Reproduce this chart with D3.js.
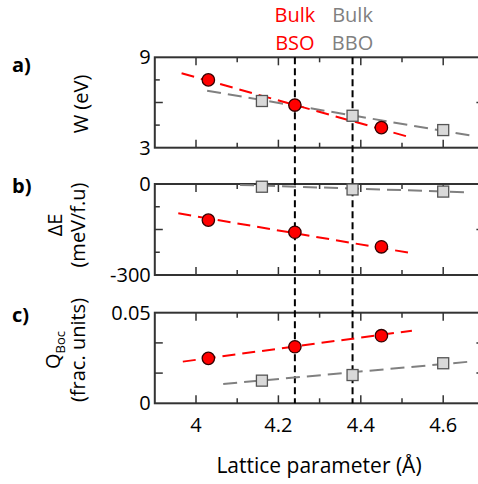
<!DOCTYPE html>
<html><head><meta charset="utf-8">
<script src="https://cdn.jsdelivr.net/npm/d3@7"></script>
<style>html,body{margin:0;padding:0;background:#fff;overflow:hidden}svg{display:block}text{font-family:"Open Sans",sans-serif}</style>
</head><body>
<svg id="c" width="478" height="484"></svg>
<script>
// Data
const latticeBSO = [4.03, 4.24, 4.45];
const latticeBBO = [4.16, 4.38, 4.60];
const W_BSO = [7.5, 5.83, 4.33];
const W_BBO = [6.1, 5.12, 4.17];
const dE_BSO = [-119, -159, -207];
const dE_BBO = [-9, -18, -25];
const Q_BSO = [0.0248, 0.0312, 0.0373];
const Q_BBO = [0.0125, 0.0156, 0.0221];
// Linear fit endpoints
const fitX_W_BSO = [3.965, 4.52], fitY_W_BSO = [7.94, 3.69];
const fitX_W_BBO = [4.027, 4.673], fitY_W_BBO = [6.78, 3.78];
const fitX_E_BSO = [3.957, 4.525], fitY_E_BSO = [-96.6, -228.5];
const fitX_E_BBO = [4.107, 4.665], fitY_E_BBO = [-3, -27.5];
const fitX_Q_BSO = [3.968, 4.524], fitY_Q_BSO = [0.0230, 0.0401];
const fitX_Q_BBO = [4.066, 4.665], fitY_Q_BBO = [0.01065, 0.0230];
const bulkBSO = 4.24, bulkBBO = 4.38;
const xTickLabels = [4, 4.2, 4.4, 4.6];
const xMinor = [4.1, 4.3, 4.5, 4.7];

const svg = d3.select("#c");
const x = d3.scaleLinear().domain([3.9, 4.7]).range([154.8, 484.4]);

const panels = [
  {label:"a)", ly:72, domain:[3,9], range:[147.7,57.3], ticksLong:[6], ticksShort:[4.5,7.5],
   tl:["3","9"], title:[["W (eV)"]], tx:[88], ty:104,
   sx:latticeBSO, sy:W_BSO, gx:latticeBBO, gy:W_BBO,
   fr:[fitX_W_BSO, fitY_W_BSO], fg:[fitX_W_BBO, fitY_W_BBO]},
  {label:"b)", ly:193, domain:[-300,0], range:[275,184], ticksLong:[-150], ticksShort:[-75,-225],
   tl:["-300","0"], title:[["ΔE"],["(meV/f.u)"]], tx:[62,85], ty:225,
   sx:latticeBSO, sy:dE_BSO, gx:latticeBBO, gy:dE_BBO,
   fr:[fitX_E_BSO, fitY_E_BSO], fg:[fitX_E_BBO, fitY_E_BBO]},
  {label:"c)", ly:322, domain:[0,0.05], range:[403.3,312.7], ticksLong:[0.05/3, 0.1/3], ticksShort:[],
   tl:["0","0.05"], title:[["Q","Boc"],["(frac. units)"]], tx:[60,85], ty:350,
   sx:latticeBSO, sy:Q_BSO, gx:latticeBBO, gy:Q_BBO,
   fr:[fitX_Q_BSO, fitY_Q_BSO], fg:[fitX_Q_BBO, fitY_Q_BBO]}
];

const axisColor = "#333";
const yTop = panels[0].range[1], yBot = panels[2].range[0];

panels.forEach(p => {
  const y = d3.scaleLinear().domain(p.domain).range(p.range);
  const g = svg.append("g");
  const [y0, y1] = [p.range[0], p.range[1]];
  const [x0, x1] = x.range();
  // ticks (inward) on all four sides
  const tk = (xx, len, isMajor) => {
    g.append("line").attr("x1", x(xx)).attr("x2", x(xx)).attr("y1", y0).attr("y2", y0 - len)
      .attr("stroke", axisColor).attr("stroke-width", 1.5);
    g.append("line").attr("x1", x(xx)).attr("x2", x(xx)).attr("y1", y1).attr("y2", y1 + len)
      .attr("stroke", axisColor).attr("stroke-width", 1.5);
  };
  [4.0,4.2,4.4,4.6].forEach(v => tk(v, 8));
  xMinor.forEach(v => tk(v, 5));
  const ytk = (v, len) => {
    g.append("line").attr("x1", x0).attr("x2", x0 + len).attr("y1", y(v)).attr("y2", y(v))
      .attr("stroke", axisColor).attr("stroke-width", 1.5);
    g.append("line").attr("x1", x1).attr("x2", x1 - len).attr("y1", y(v)).attr("y2", y(v))
      .attr("stroke", axisColor).attr("stroke-width", 1.5);
  };
  p.ticksLong.forEach(v => ytk(v, 8));
  p.ticksShort.forEach(v => ytk(v, 5));
  // frame
  g.append("rect").attr("x", x0).attr("y", y1).attr("width", x1 - x0).attr("height", y0 - y1)
    .attr("fill", "none").attr("stroke", axisColor).attr("stroke-width", 2);
  // y tick labels
  g.append("text").attr("x", x0 - 4).attr("y", y(p.domain[0]) + 7).attr("text-anchor", "end")
    .attr("font-size", 20).attr("fill", "#000").text(p.tl[0]);
  g.append("text").attr("x", x0 - 4).attr("y", y(p.domain[1]) + 7).attr("text-anchor", "end")
    .attr("font-size", 20).attr("fill", "#000").text(p.tl[1]);
  // panel label
  g.append("text").attr("x", 12).attr("y", p.ly).attr("font-size", 20).attr("font-weight", "bold").text(p.label);
  // y title
  p.title.forEach((line, i) => {
    const t = g.append("text").attr("transform", `translate(${p.tx[i]},${p.ty}) rotate(-90)`)
      .attr("text-anchor", "middle").attr("font-size", 20).attr("fill", "#000");
    t.append("tspan").text(line[0]);
    if (line[1]) t.append("tspan").attr("font-size", 13).attr("dy", 5).text(line[1]);
  });
  p.y = y;
});

// vertical bulk lines
[bulkBSO, bulkBBO].forEach(v => {
  svg.append("line").attr("x1", x(v)).attr("x2", x(v)).attr("y1", yTop).attr("y2", yBot)
    .attr("stroke", "#000").attr("stroke-width", 2).attr("stroke-dasharray", "7,4");
});

panels.forEach(p => {
  const y = p.y;
  const line = d3.line().x(d => x(d[0])).y(d => y(d[1]));
  svg.append("path").attr("d", line(d3.zip(p.fg[0], p.fg[1]))).attr("fill", "none")
    .attr("stroke", "#808080").attr("stroke-width", 2).attr("stroke-dasharray", "14,7");
  svg.append("path").attr("d", line(d3.zip(p.fr[0], p.fr[1]))).attr("fill", "none")
    .attr("stroke", "#ff0000").attr("stroke-width", 2).attr("stroke-dasharray", "13,7");
  svg.selectAll(null).data(d3.zip(p.gx, p.gy)).enter().append("rect")
    .attr("x", d => x(d[0]) - 5.5).attr("y", d => y(d[1]) - 5.5).attr("width", 11).attr("height", 11)
    .attr("fill", "#d9d9d9").attr("stroke", "#555").attr("stroke-width", 1.3);
  svg.selectAll(null).data(d3.zip(p.sx, p.sy)).enter().append("circle")
    .attr("cx", d => x(d[0])).attr("cy", d => y(d[1])).attr("r", 6.2)
    .attr("fill", "#ff0000").attr("stroke", "#300").attr("stroke-width", 1.3);
});

// x tick labels
svg.selectAll(null).data(xTickLabels).enter().append("text")
  .attr("x", d => x(d)).attr("y", 431.5).attr("text-anchor", "middle").attr("font-size", 20)
  .text(d => d3.format("")(d));
svg.append("text").attr("x", 319).attr("y", 473).attr("text-anchor", "middle").attr("font-size", 21)
  .text("Lattice parameter (Å)");

// top labels
[["Bulk", 21.5], ["BSO", 50]].forEach(([t, yy]) => svg.append("text").attr("x", x(bulkBSO)).attr("y", yy)
  .attr("text-anchor", "middle").attr("font-size", 20).attr("fill", "#ff0000").text(t));
[["Bulk", 21.5], ["BBO", 50]].forEach(([t, yy]) => svg.append("text").attr("x", x(bulkBBO)).attr("y", yy)
  .attr("text-anchor", "middle").attr("font-size", 20).attr("fill", "#808080").text(t));
</script>
</body></html>
